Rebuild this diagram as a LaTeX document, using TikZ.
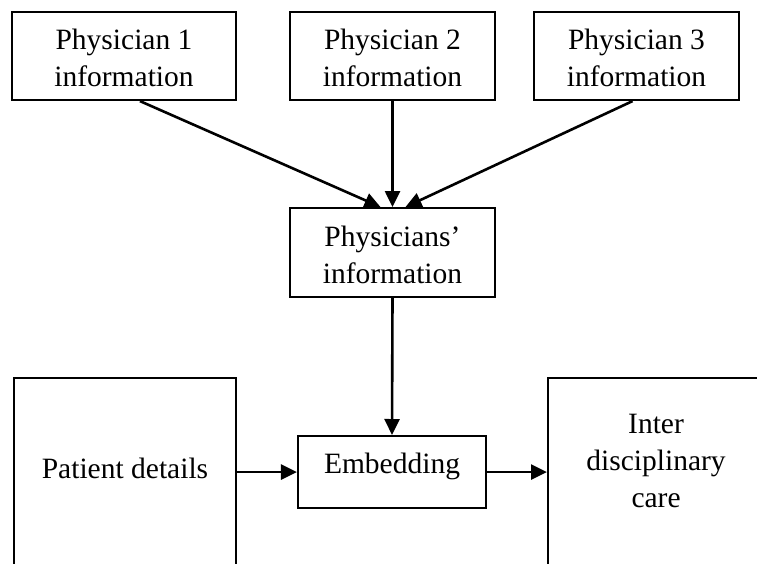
\documentclass[tikz,border=0pt]{standalone}
\usepackage{fontspec}
\setmainfont{Liberation Serif}
\usetikzlibrary{arrows.meta,calc}
\begin{document}
\begin{tikzpicture}[x=1pt,y=-1pt,
  box/.style={draw, line width=2.1pt, inner sep=0pt, align=center,
    font=\fontsize{29.5}{37}\selectfont},
  link/.style={line width=2.6pt, -{Triangle[length=16pt,width=15pt]}}]
\useasboundingbox (0,0) rectangle (757,563);
\clip (0,0) rectangle (757,563);

% source boxes (baseline of the last line sets text height/depth)
\node[box, anchor=north, minimum width=224pt, text height=74pt, text depth=14pt]
  (p1) at (124,11) {Physician 1\\information};
\node[box, anchor=north, minimum width=205pt, text height=74pt, text depth=14pt]
  (p2) at (392.5,11) {Physician 2\\information};
\node[box, anchor=north, minimum width=205pt, text height=74pt, text depth=14pt]
  (p3) at (636.5,11) {Physician 3\\information};

% merged information
\node[box, anchor=north, minimum width=205pt, text height=75pt, text depth=14pt]
  (phys) at (392.5,207) {Physicians'\\information};

% bottom row
\node[box, anchor=north, minimum width=222pt, text height=100pt, text depth=130pt]
  (patient) at (125,377) {Patient details};
\node[box, anchor=north, minimum width=188pt, text height=37pt, text depth=35pt]
  (embed) at (392,435) {Embedding};
\node[box, anchor=north west, minimum width=216pt, text height=129pt, text depth=120pt]
  (inter) at (547,377) {Inter\\disciplinary\\care};

% connectors
\draw[link] ($(p1.south)+(16,0)$) -- ($(phys.north)+(-12,0)$);
\draw[link] (p2.south) -- (phys.north);
\draw[link] ($(p3.south)+(-4,0)$) -- ($(phys.north)+(13,0)$);
\draw[link] (phys.south) -- (embed.north);
\draw[link] (patient.east |- embed.west) -- (embed.west);
\draw[link] (embed.east) -- (inter.west |- embed.east);
\end{tikzpicture}
\end{document}
